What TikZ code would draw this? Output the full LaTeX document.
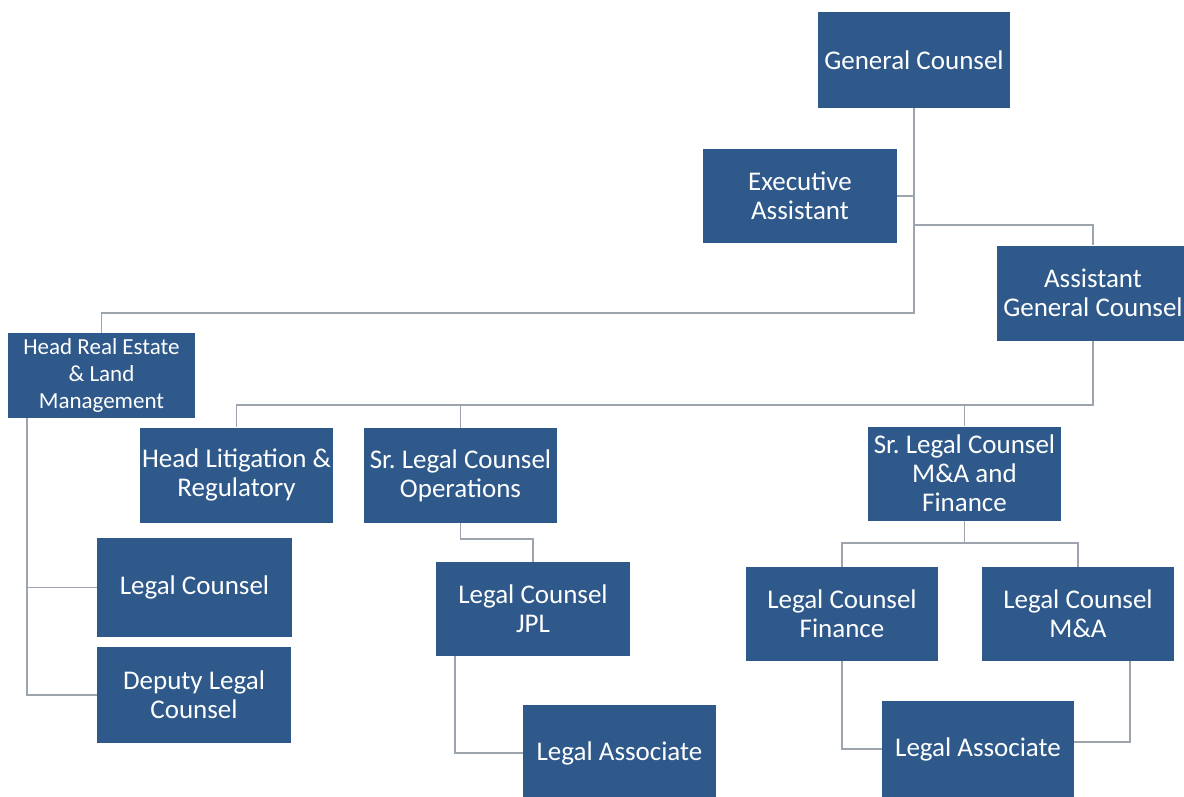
\documentclass[tikz,border=0pt]{standalone}
\usepackage{fontspec}
\setmainfont{Carlito}
\frenchspacing
\definecolor{boxblue}{HTML}{2E598A}
\definecolor{linegray}{HTML}{9EA4AE}
\begin{document}
\begin{tikzpicture}[x=1pt,y=-1pt,
  orgbox/.style={rectangle, fill=boxblue, text=white, inner sep=0pt, align=center,
    font=\fontsize{27}{29}\selectfont},
  conn/.style={draw=linegray, line width=1.6pt}]
\useasboundingbox (0,0) rectangle (1184,797);
\clip (0,0) rectangle (1184,797);
\fill[white] (0,0) rectangle (1184,797);

\node[orgbox, minimum width=192pt, minimum height=96pt] (gc) at (914,60) {General Counsel};
\node[orgbox, minimum width=194pt, minimum height=94pt] (ea) at (800,196) {Executive\\Assistant};
\node[orgbox, minimum width=193pt, minimum height=95pt] (agc) at (1093,293) {Assistant\\General Counsel};
\node[orgbox, minimum width=187pt, minimum height=85pt, font=\fontsize{23}{27}\selectfont] (hre) at (101.5,375.5) {Head Real Estate\\\& Land\\Management};
\node[orgbox, minimum width=193pt, minimum height=95pt] (hlr) at (236.5,475) {Head Litigation \&\\Regulatory};
\node[orgbox, minimum width=193pt, minimum height=95pt] (slo) at (460.5,475.5) {Sr. Legal Counsel\\Operations};
\node[orgbox, minimum width=193pt, minimum height=94pt] (slm) at (964.5,473.5) {Sr. Legal Counsel\\M\&A and\\Finance};
\node[orgbox, minimum width=195pt, minimum height=99pt] (lc) at (194.5,587.5) {Legal Counsel};
\node[orgbox, minimum width=194pt, minimum height=96pt] (dlc) at (194,695) {Deputy Legal\\Counsel};
\node[orgbox, minimum width=194pt, minimum height=94pt] (jpl) at (533,609) {Legal Counsel\\JPL};
\node[orgbox, minimum width=193pt, minimum height=96pt] (la1) at (619.5,753) {Legal Associate};
\node[orgbox, minimum width=192pt, minimum height=94pt] (lcf) at (842,614) {Legal Counsel\\Finance};
\node[orgbox, minimum width=192pt, minimum height=94pt] (lcm) at (1078,614) {Legal Counsel\\M\&A};
\node[orgbox, minimum width=192pt, minimum height=96pt] (la2) at (978,749) {Legal Associate};

\coordinate (j1) at (914,313);
\coordinate (j2) at (914,225);
\coordinate (j3) at (1093,405);
\coordinate (j4) at (964.5,543);
\coordinate (k1) at (27,418);
\coordinate (k2) at (0,539);
\coordinate (k3) at (455,656);
\coordinate (k4) at (1130,661);

\draw[conn] (gc.south) -- (j1) -| (hre.north);
\draw[conn] (ea.east) -- (ea.east -| gc.south);
\draw[conn] (j2) -| (agc.north);
\draw[conn] (agc.south) -- (j3) -| (hlr.north);
\draw[conn] (slo.north |- j3) -- (slo.north);
\draw[conn] (slm.north |- j3) -- (slm.north);
\draw[conn] (slm.south) -- (j4);
\draw[conn] (lcf.north) |- (j4) -| (lcm.north);
\draw[conn] (k1) |- (dlc.west);
\draw[conn] (lc.west) -- (k1 |- lc.west);
\draw[conn] (slo.south) |- (k2 -| jpl.north) -- (jpl.north);
\draw[conn] (k3) |- (la1.west);
\draw[conn] (lcf.south) |- (la2.west);
\draw[conn] (k4) |- ([yshift=7pt]la2.east);
\end{tikzpicture}
\end{document}
